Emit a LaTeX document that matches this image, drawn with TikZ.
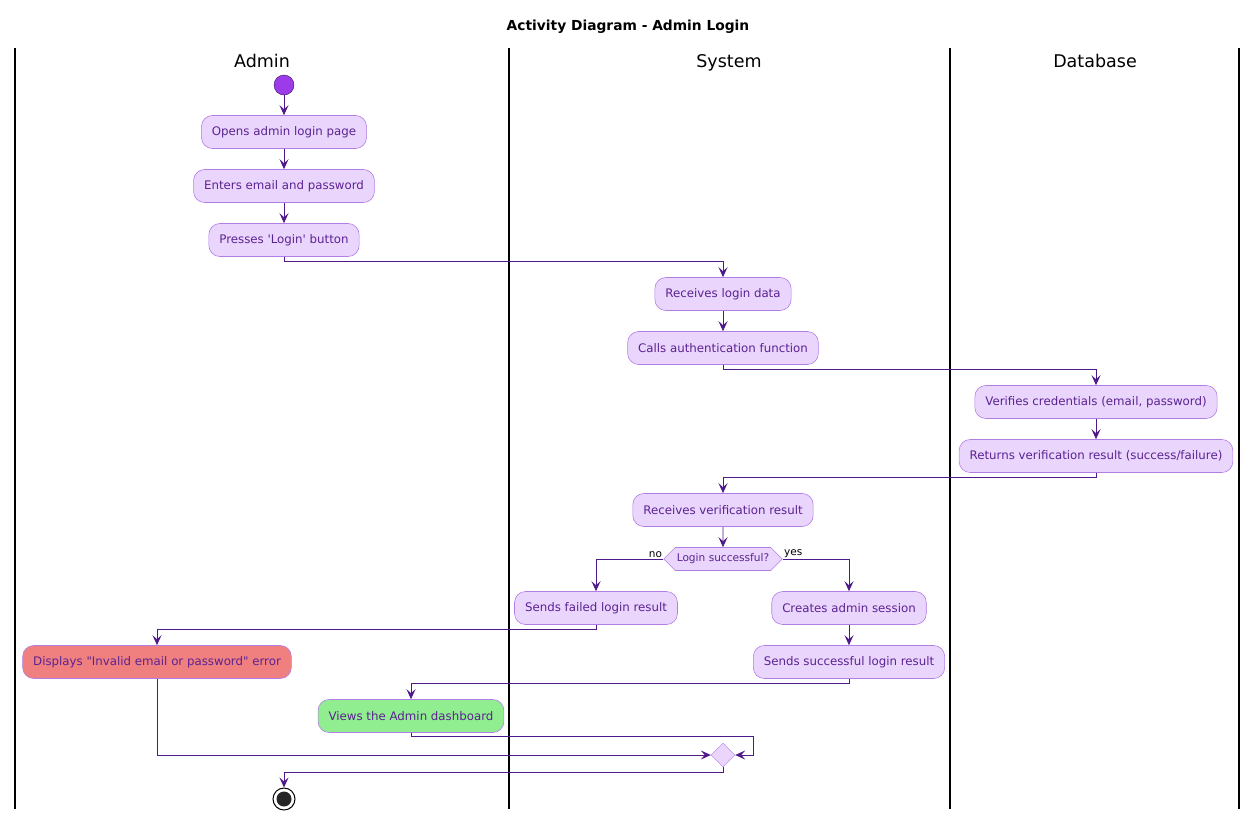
\documentclass[tikz,border=0pt]{standalone}
\usepackage{fontspec}
\setmainfont{DejaVu Sans}[Ligatures=TeXOff]
\usetikzlibrary{arrows.meta,shapes.geometric,shapes.symbols}
\definecolor{actfill}{HTML}{EAD5FD}
\definecolor{actline}{HTML}{B27EE6}
\definecolor{acttext}{HTML}{5B2391}
\definecolor{flowcol}{HTML}{4E1A8A}
\definecolor{startcol}{HTML}{9B3BE9}
\definecolor{errfill}{HTML}{F08080}
\definecolor{okfill}{HTML}{90EE90}
\begin{document}
\begin{tikzpicture}[x=1pt, y=-1pt, >={Stealth[length=10pt,width=9pt,inset=4pt]},
    act/.style={draw=actline, fill=actfill, text=acttext, rounded corners=11pt, line width=0.6pt,
        minimum height=33pt, inner xsep=10.5pt, font=\fontsize{11.8}{13}\selectfont},
    flow/.style={->, draw=flowcol, line width=0.85pt},
    lane/.style={line width=1.4pt},
    lanehead/.style={anchor=base, font=\fontsize{17.5}{19}\selectfont}]
    \useasboundingbox (0,0) rectangle (1257,820);
    % 标题与泳道
    \node[font=\bfseries\fontsize{13.8}{15}\selectfont] (title) at (628,27) {Activity Diagram - Admin Login};
    \draw[lane] (15,48) -- (15,809);
    \draw[lane] (509,48) -- (509,809);
    \draw[lane] (950,48) -- (950,809);
    \draw[lane] (1239,48) -- (1239,809);
    \node[lanehead] (hadmin) at (262,67) {Admin};
    \node[lanehead] (hsys) at (729,67) {System};
    \node[lanehead] (hdb) at (1095,67) {Database};

    % 定义节点
    \node[circle, fill=startcol, draw=flowcol!70!black, minimum size=20pt, inner sep=0pt] (start) at (284,85) {};
    \node[act] (open) at (284,132) {Opens admin login page};
    \node[act] (enter) at (284,186) {Enters email and password};
    \node[act] (press) at (284,240) {Presses 'Login' button};
    \node[act] (recv) at (723,294) {Receives login data};
    \node[act] (calls) at (723,348) {Calls authentication function};
    \node[act] (verify) at (1096,402) {Verifies credentials (email, password)};
    \node[act] (returns) at (1096,456) {Returns verification result (success/failure)};
    \node[act] (recvres) at (723,510) {Receives verification result};
    \node[signal, signal to=west and east, signal pointer angle=90, draw=actline, fill=actfill,
        text=acttext, minimum height=23pt, inner xsep=1.5pt, inner ysep=0pt, line width=0.6pt,
        font=\fontsize{10.6}{12}\selectfont] (dec) at (723,559) {Login successful?};
    \node[act] (failed) at (596,608) {Sends failed login result};
    \node[act] (create) at (849,608) {Creates admin session};
    \node[act] (sendok) at (849,662) {Sends successful login result};
    \node[act, fill=errfill] (err) at (157,662) {Displays "Invalid email or password" error};
    \node[act, fill=okfill] (dash) at (411,716) {Views the Admin dashboard};
    \node[diamond, draw=actline, fill=actfill, minimum size=24pt, inner sep=0pt] (merge) at (723,755) {};
    \node[circle, draw=black, fill=white, line width=1pt, minimum size=22pt, inner sep=0pt] (stop) at (284,799) {};
    \node[circle, fill=black!85, minimum size=15pt, inner sep=0pt] (stopdot) at (stop) {};

    % 绘制流程箭头
    \draw[flow] (start) -- (open);
    \draw[flow] (open) -- (enter);
    \draw[flow] (enter) -- (press);
    \draw[flow] (press.south) -- ++(0,5) -| (recv.north);
    \draw[flow] (recv) -- (calls);
    \draw[flow] (calls.south) -- ++(0,5) -| (verify.north);
    \draw[flow] (verify) -- (returns);
    \draw[flow] (returns.south) -- ++(0,5) -| (recvres.north);
    \draw[flow] (recvres) -- (dec);
    \draw[flow] (dec.west) -| node[pos=0, above left, inner sep=1pt, font=\fontsize{10.5}{12}\selectfont] {no} (failed.north);
    \draw[flow] (dec.east) -| node[pos=0, above right, inner sep=1pt, font=\fontsize{10.5}{12}\selectfont] {yes} (create.north);
    \draw[flow] (create) -- (sendok);
    \draw[flow] (failed.south) -- ++(0,5) -| (err.north);
    \draw[flow] (sendok.south) -- ++(0,5) -| (dash.north);
    \draw[flow] (dash.south) -- ++(0,4) -| ([xshift=18pt]merge.east) -- (merge.east);
    \draw[flow] (err.south) |- (merge.west);
    \draw[flow] (merge.south) -- ++(0,5) -| (stop.north);
\end{tikzpicture}
\end{document}
